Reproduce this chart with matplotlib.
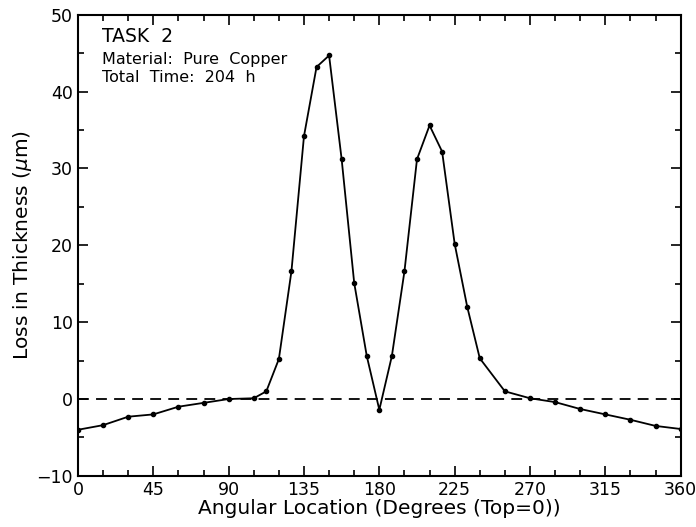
#!/usr/bin/env python3
"""Loss in thickness vs angular location, Task 2 (pure copper)."""

import matplotlib
matplotlib.use("Agg")
import matplotlib.pyplot as plt
from matplotlib.ticker import MultipleLocator

angle = [0, 15, 30, 45, 60, 75, 90, 105, 112.5, 120, 127.5, 135, 142.5, 150,
         157.5, 165, 172.5, 180, 187.5, 195, 202.5, 210, 217.5, 225, 232.5,
         240, 255, 270, 285, 300, 315, 330, 345, 360]
loss = [-4.0, -3.4, -2.3, -2.0, -1.0, -0.5, 0.0, 0.1, 1.0, 5.2, 16.6, 34.2,
        43.2, 44.7, 31.2, 15.1, 5.6, -1.4, 5.6, 16.6, 31.2, 35.6, 32.2, 20.2,
        12.0, 5.3, 1.0, 0.1, -0.4, -1.3, -2.0, -2.7, -3.5, -3.9]

x_ticks = [0, 45, 90, 135, 180, 225, 270, 315, 360]
y_ticks = [-10, 0, 10, 20, 30, 40, 50]

plt.rcParams['font.family'] = ['DejaVu Sans']

fig = plt.figure(figsize=(6.96, 5.27), dpi=100)
ax = fig.add_axes([0.112, 0.097, 0.866, 0.875])

# Zero reference line
ax.axhline(0, color='black', linestyle=(0, (6, 4)), linewidth=1.3)

ax.plot(angle, loss, color='black', linewidth=1.3, marker='o', markersize=3)

ax.set_xlim(0, 360)
ax.set_ylim(-10, 50)
ax.set_xticks(x_ticks)
ax.set_yticks(y_ticks)
ax.xaxis.set_minor_locator(MultipleLocator(15))
ax.yaxis.set_minor_locator(MultipleLocator(5))
ax.tick_params(which='both', direction='in', top=True, right=True,
               labelsize=12.5, width=1.2)
ax.tick_params(which='major', length=7)
ax.tick_params(which='minor', length=4)
for spine in ax.spines.values():
    spine.set_linewidth(1.5)

ax.set_xlabel('Angular Location (Degrees (Top=0))', fontsize=14.5, labelpad=0)
ax.set_ylabel(r'Loss in Thickness ($\mu$m)', fontsize=14.5, labelpad=2)

# Annotation block in upper left
ax.text(0.04, 0.952, 'TASK  2', transform=ax.transAxes, fontsize=13.5,
        va='center', ha='left')
ax.text(0.04, 0.902, 'Material:  Pure  Copper', transform=ax.transAxes,
        fontsize=11.5, va='center', ha='left')
ax.text(0.04, 0.864, 'Total  Time:  204  h', transform=ax.transAxes,
        fontsize=11.5, va='center', ha='left')

fig.savefig('out.png', dpi=100)
